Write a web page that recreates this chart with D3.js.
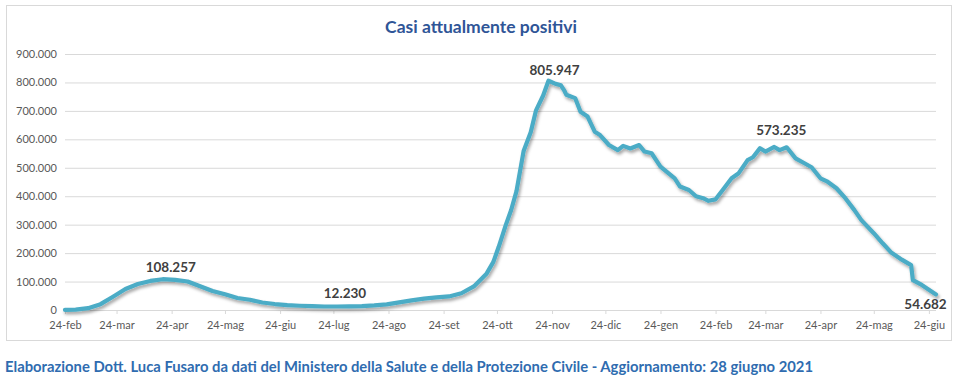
<!DOCTYPE html>
<html><head><meta charset="utf-8">
<script src="https://cdn.jsdelivr.net/npm/d3@7/dist/d3.min.js"></script>
<style>html,body{margin:0;padding:0;background:#fff;}svg{display:block;font-family:Lato,"Open Sans",sans-serif;}</style>
</head><body>
<svg id="chart" width="961" height="381"></svg>
<script>
const title = "Casi attualmente positivi";
const footer = "Elaborazione Dott. Luca Fusaro da dati del Ministero della Salute e della Protezione Civile - Aggiornamento: 28 giugno 2021";

const dates = [
"2020-02-24","2020-03-01","2020-03-08","2020-03-15","2020-03-22","2020-03-29","2020-04-05","2020-04-12","2020-04-19","2020-04-26",
"2020-05-03","2020-05-10","2020-05-17","2020-05-24","2020-05-31","2020-06-07","2020-06-14","2020-06-21","2020-06-28","2020-07-05",
"2020-07-12","2020-07-19","2020-07-26","2020-08-02","2020-08-09","2020-08-16","2020-08-23","2020-08-30","2020-09-06","2020-09-13",
"2020-09-20","2020-09-27","2020-10-04","2020-10-11","2020-10-18","2020-10-22","2020-10-25","2020-10-29","2020-11-01","2020-11-04",
"2020-11-08","2020-11-12","2020-11-15","2020-11-19","2020-11-22","2020-11-26","2020-11-29","2020-12-01","2020-12-02","2020-12-07",
"2020-12-10","2020-12-14","2020-12-18","2020-12-21","2020-12-26","2020-12-31","2021-01-03","2021-01-07","2021-01-12","2021-01-15",
"2021-01-19","2021-01-24","2021-02-01","2021-02-04","2021-02-09","2021-02-13","2021-02-17","2021-02-20","2021-02-24","2021-02-28",
"2021-03-05","2021-03-09","2021-03-14","2021-03-17","2021-03-21","2021-03-24","2021-03-29","2021-04-01","2021-04-05","2021-04-10",
"2021-04-15","2021-04-19","2021-04-24","2021-04-28","2021-05-03","2021-05-08","2021-05-13","2021-05-17","2021-05-24","2021-05-29",
"2021-06-03","2021-06-09","2021-06-14","2021-06-15","2021-06-20","2021-06-28"];

const values = [
221,1577,6387,20603,46638,73880,91246,102253,108257,106103,
100179,83324,66553,55300,42075,35877,26274,20972,16836,14884,
13303,12368,12230,12646,13714,16014,19714,26754,33789,39712,
44098,47718,58903,82764,126237,169302,222241,299191,351386,418142,
558636,625000,701817,754000,805947,795000,790000,770000,757000,745000,
697000,680000,627000,615000,580000,562000,577000,568000,580000,557000,
551000,504000,463000,434000,422000,400000,393000,384000,389000,422000,
463000,481000,527000,537000,569000,557000,573235,562000,572000,533000,
516000,502000,463000,451000,428000,393000,352000,316000,270000,234500,
201000,176000,158000,105000,88000,54682];

const yTicks = [0,100000,200000,300000,400000,500000,600000,700000,800000,900000];
const xTickDates = ["2020-02-24","2020-03-24","2020-04-24","2020-05-24","2020-06-24","2020-07-24","2020-08-24","2020-09-24","2020-10-24","2020-11-24","2020-12-24","2021-01-24","2021-02-24","2021-03-24","2021-04-24","2021-05-24","2021-06-24"];
const xTickLabels = ["24-feb","24-mar","24-apr","24-mag","24-giu","24-lug","24-ago","24-set","24-ott","24-nov","24-dic","24-gen","24-feb","24-mar","24-apr","24-mag","24-giu"];

const labelDates = ["2020-04-19","2020-07-26","2020-11-22","2021-03-29","2021-06-28"];
const labelValues = [108257,12230,805947,573235,54682];

const parse = d3.timeParse("%Y-%m-%d");
const data = dates.map((d,i)=>({date:parse(d), value:values[i]}));
const itFmt = d3.formatLocale({decimal:",",thousands:".",grouping:[3],currency:["€",""]}).format(",d");

const svg = d3.select("#chart");
const defs = svg.append("defs");
const f = defs.append("filter").attr("id","shadow").attr("x","-5%").attr("y","-5%").attr("width","110%").attr("height","120%");
f.append("feDropShadow").attr("dx",1.5).attr("dy",2.5).attr("stdDeviation",1.4).attr("flood-color","#000").attr("flood-opacity",0.35);

// outer frame
svg.append("rect").attr("x",6.5).attr("y",5.5).attr("width",945).attr("height",335)
  .attr("fill","#fff").attr("stroke","#d9d9d9").attr("stroke-width",1);

const x = d3.scaleTime().domain([parse("2020-02-24"), parse("2021-06-28")]).range([65,936]);
const y = d3.scaleLinear().domain([0,900000]).range([310,54]);

// gridlines + y labels
const yAxis = d3.axisLeft(y).tickValues(yTicks).tickSize(-(936-65)).tickPadding(10).tickFormat(d=>itFmt(d));
const gy = svg.append("g").attr("transform","translate(65,0)").call(yAxis);
gy.select(".domain").remove();
gy.selectAll(".tick line").attr("stroke","#d9d9d9").attr("stroke-width",1);
gy.selectAll(".tick text").attr("fill","#595959").attr("font-size","11px").attr("font-family","Lato, sans-serif").attr("x",-8);

// x axis
const xAxis = d3.axisBottom(x).tickValues(xTickDates.map(parse)).tickSize(4).tickPadding(7)
  .tickFormat((d,i)=>xTickLabels[i]);
const gx = svg.append("g").attr("transform","translate(0,310)").call(xAxis);
gx.select(".domain").attr("stroke","#d9d9d9").attr("d","M65,0.5H936");
gx.selectAll(".tick line").attr("stroke","#d9d9d9");
gx.selectAll(".tick text").attr("fill","#595959").attr("font-size","11px").attr("font-family","Lato, sans-serif");

// line
const line = d3.line().x(d=>x(d.date)).y(d=>y(d.value)).curve(d3.curveLinear);
svg.append("path").datum(data).attr("d",line).attr("fill","none")
  .attr("stroke","#4bacc6").attr("stroke-width",4.2).attr("stroke-linejoin","round").attr("stroke-linecap","round")
  .attr("filter","url(#shadow)");

// data labels
const offs = [[8,-7],[8,-8.5],[6,-6],[7,-12],[-10.5,14.5]];
labelDates.forEach((d,i)=>{
  svg.append("text").attr("x",x(parse(d))+offs[i][0]).attr("y",y(labelValues[i])+offs[i][1])
    .attr("text-anchor","middle").attr("font-weight","bold").attr("font-size","13.5px")
    .attr("fill","#404040").text(itFmt(labelValues[i]));
});

// title
svg.append("text").attr("x",481).attr("y",33).attr("text-anchor","middle")
  .attr("font-weight","bold").attr("font-size","17.5px").attr("fill","#2f5597").text(title);

// footer
svg.append("text").attr("x",5).attr("y",372).attr("font-weight","bold").attr("font-size","14.8px")
  .attr("fill","#2f6cb0").text(footer);
</script>
</body></html>
